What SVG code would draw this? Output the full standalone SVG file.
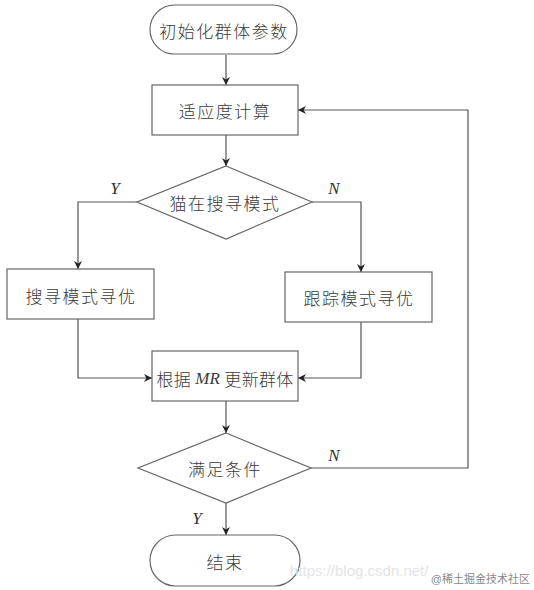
<svg xmlns="http://www.w3.org/2000/svg" width="534" height="590" viewBox="0 0 534 590">
<defs>
<marker id="arr" viewBox="0 0 10 10" refX="10" refY="5" markerWidth="8" markerHeight="8" orient="auto" markerUnits="userSpaceOnUse">
<path d="M0,0 L10,5 L0,10 L3,5 Z" fill="#222"/>
</marker>
</defs>
<style>
.s{fill:#fff;stroke:#666;stroke-width:1.2}
.c{fill:none;stroke:#555;stroke-width:1.2}
.t{font-family:"Noto Sans CJK SC","Liberation Serif",serif;font-size:17px;font-weight:300;fill:#3a3a3a;text-anchor:middle;dominant-baseline:central;letter-spacing:1.5px}
.l{font-family:"Liberation Serif",serif;font-style:italic;font-size:17px;fill:#333;text-anchor:middle;dominant-baseline:central}
.w{font-family:"Liberation Sans","Noto Sans CJK SC",sans-serif;font-size:11px;fill:#888}
</style>
<rect width="534" height="590" fill="#fff"/>
<g id="connectors">
<line class="c" x1="226" y1="55" x2="226" y2="85" marker-end="url(#arr)"/>
<line class="c" x1="226" y1="135" x2="226" y2="166" marker-end="url(#arr)"/>
<polyline class="c" points="137,202 78,202 78,269" marker-end="url(#arr)"/>
<polyline class="c" points="312,202 361,202 361,272" marker-end="url(#arr)"/>
<polyline class="c" points="78,319 78,378 152,378" marker-end="url(#arr)"/>
<polyline class="c" points="361,322 361,378 298,378" marker-end="url(#arr)"/>
<line class="c" x1="226" y1="401" x2="226" y2="433" marker-end="url(#arr)"/>
<polyline class="c" points="311,468 468,468 468,110 298,110" marker-end="url(#arr)"/>
<line class="c" x1="226" y1="503" x2="226" y2="535" marker-end="url(#arr)"/>
<text class="l" x="115" y="188">Y</text>
<text class="l" x="334" y="188">N</text>
<text class="l" x="334" y="455">N</text>
<text class="l" x="197" y="518">Y</text>
</g>
<g id="start">
<rect class="s" x="150" y="5" width="147" height="49" rx="24.5"/>
<text class="t" x="224" y="30">初始化群体参数</text>
</g>
<g id="fitness">
<rect class="s" x="152" y="85" width="146" height="50"/>
<text class="t" x="225" y="110">适应度计算</text>
</g>
<g id="decision1">
<polygon class="s" points="226,166 312,202 226,239 137,202"/>
<text class="t" x="225" y="202">猫在搜寻模式</text>
</g>
<g id="search">
<rect class="s" x="7" y="269" width="147" height="50"/>
<text class="t" x="81" y="295">搜寻模式寻优</text>
</g>
<g id="trace">
<rect class="s" x="285" y="272" width="147" height="50"/>
<text class="t" x="359" y="297">跟踪模式寻优</text>
</g>
<g id="update">
<rect class="s" x="152" y="351" width="146" height="50"/>
<text class="t" x="225" y="378" style="letter-spacing:0.3px">根据 <tspan font-family="Liberation Serif" font-style="italic">MR</tspan> 更新群体</text>
</g>
<g id="decision2">
<polygon class="s" points="226,433 311,468 226,503 138,468"/>
<text class="t" x="225" y="468">满足条件</text>
</g>
<g id="end">
<rect class="s" x="150" y="535" width="150" height="51" rx="25.5"/>
<text class="t" x="225" y="561">结束</text>
</g>
<text class="w" x="290" y="576" style="fill:#e4e4e4;font-size:15px">https://blog.csdn.net/</text>
<text class="w" x="530" y="583" text-anchor="end">@稀土掘金技术社区</text>
</svg>
